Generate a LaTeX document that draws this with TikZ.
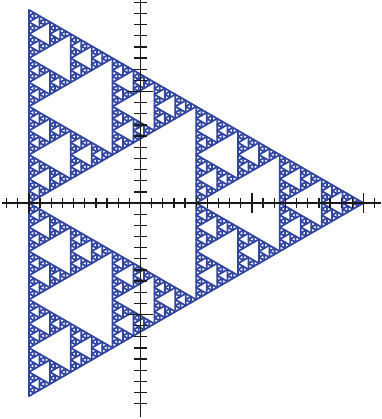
\documentclass[tikz,border=0pt]{standalone}

\definecolor{fractalblue}{RGB}{50,70,158}
\definecolor{axisgray}{RGB}{25,25,25}

% recursieve Sierpinski: drie halve kopieen naar de hoekpunten
\newcommand\sierpinskiDeel[1]{%
  \ifnum#1>0
    \foreach \hx/\hy in {-0.5/0.8660, -0.5/-0.8660, 1/0} {
      \begin{scope}[shift={(\hx,\hy)}, scale=0.5]
        \sierpinskiDeel{\numexpr#1-1\relax}
      \end{scope}
    }
  \else
    \draw[sierp] (-1,1.7321) -- (-1,-1.7321) -- (2,0) -- cycle;
  \fi}

\begin{document}
\begin{tikzpicture}[x=3cm, y=3cm]

% --- Stijlen ---
\tikzset{
    sierp/.style={draw=fractalblue, line width=1.35pt, line join=round},
    axis/.style={draw=axisgray, line width=1.0pt},
    minortick/.style={draw=axisgray, line width=1.0pt},
    majortick/.style={draw=axisgray, line width=1.1pt}
}

% --- Vaste marges ---
\useasboundingbox (-1.260,-1.937) rectangle (2.166,1.821);

% --- Driehoek (diepte 6) ---
\sierpinskiDeel{6}

% --- Assen ---
\draw[axis] (-1.24,0) -- (2.16,0);
\draw[axis] (0,-1.92) -- (0,1.821);

% Streepjes op de x-as
\foreach \i in {-12,...,21}
    \draw[minortick] (\i/10,-0.045) -- (\i/10,0.045);
\foreach \i in {-1,1,2}
    \draw[majortick] (\i,-0.09) -- (\i,0.09);

% Streepjes op de y-as
\foreach \i in {-18,...,18}
    \draw[minortick] (-0.055,\i/10) -- (0.055,\i/10);
\foreach \i in {-1,1}
    \draw[majortick] (-0.11,\i) -- (0.11,\i);

\end{tikzpicture}
\end{document}
